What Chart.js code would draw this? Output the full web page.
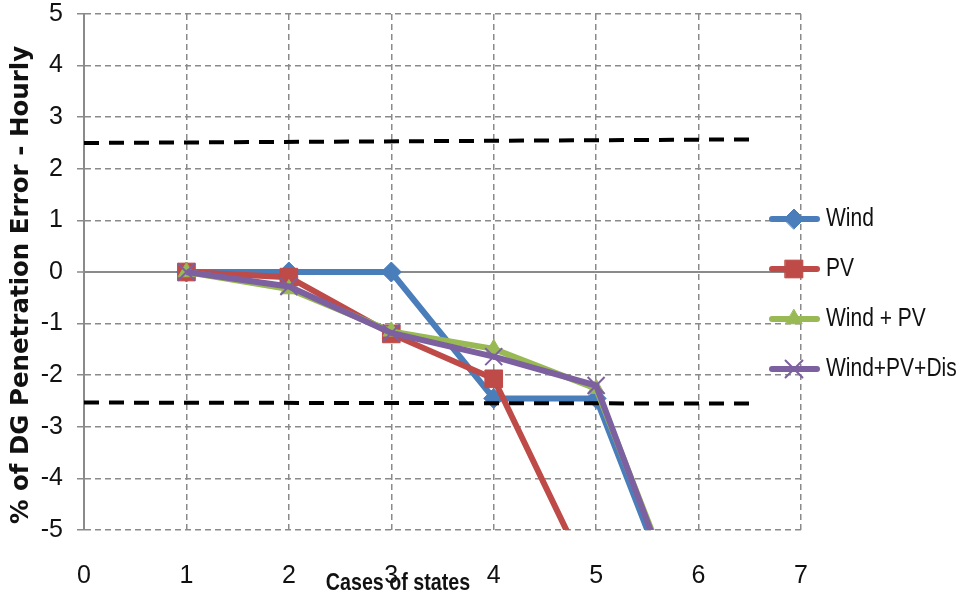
<!DOCTYPE html>
<html>
<head>
<meta charset="utf-8">
<title>DG penetration error</title>
<script src="https://cdn.jsdelivr.net/npm/chart.js@4.4.1/dist/chart.umd.min.js"></script>
<style>
    html, body { margin: 0; padding: 0; background: #fff; }
    canvas { display: block; }
</style>
</head>
<body>
<canvas id="erroChart" width="960" height="601"></canvas>
<script>
// Casos (eixo x) e erro horário de penetração de GD por cenário
const cases = [1, 2, 3, 4, 5, 6];
const windErr = [0, 0, 0, -2.45, -2.45, -7.55];
const pvErr = [0, -0.1, -1.2, -2.07, -6.2];
const windPvErr = [0, -0.33, -1.15, -1.49, -2.26, -7.33];
const windPvDisErr = [0, -0.28, -1.18, -1.64, -2.2, -7.48];

// Limites tracejados (+/- 2,5 %)
const limitX = [0, 6.52];
const upperLimit = [2.5, 2.57];
const lowerLimit = [-2.53, -2.55];

const xTicks = [0, 1, 2, 3, 4, 5, 6, 7];
const yTicks = [-5, -4, -3, -2, -1, 0, 1, 2, 3, 4, 5];

const xTitulo = 'Cases of states';
const yTitulo = '% of DG Penetration Error - Hourly';

const sans = "'Liberation Sans', Arial, sans-serif";
const gridGray = '#8a8a8a';

function toPoints(xs, ys) {
    return ys.map((y, i) => ({ x: xs[i], y: y }));
}

function serie(label, values, color, style, radius, order) {
    return {
        label: label,
        data: toPoints(cases, values),
        borderColor: color,
        backgroundColor: color,
        borderWidth: 6,
        pointStyle: style,
        pointRadius: radius,
        pointBackgroundColor: color,
        pointBorderColor: color,
        pointBorderWidth: style === 'crossRot' ? 2 : 1,
        tension: 0,
        clip: 0,
        order: order,
        noLegenda: false
    };
}

function limite(values) {
    return {
        label: '',
        data: toPoints(limitX, values),
        borderColor: '#000',
        borderWidth: 4,
        borderDash: [15, 10],
        pointRadius: 0,
        clip: 0,
        order: 4,
        noLegenda: true
    };
}

// Texto comprimido na horizontal (fonte estreita)
function textoEstreito(ctx, texto, x, y, fonte, escala, align) {
    ctx.save();
    ctx.font = fonte;
    ctx.fillStyle = '#111';
    ctx.textBaseline = 'middle';
    ctx.textAlign = align;
    ctx.translate(x, y);
    ctx.scale(escala, 1);
    ctx.fillText(texto, 0, 0);
    ctx.restore();
}

// Títulos dos eixos
const titulos = {
    id: 'titulos',
    afterDraw(chart) {
        const ctx = chart.ctx;
        textoEstreito(ctx, xTitulo, 398, 583, 'bold 24px ' + sans, 0.82, 'center');

        ctx.save();
        ctx.translate(22, 285);
        ctx.rotate(-Math.PI / 2);
        ctx.font = "bold 24.5px 'DejaVu Sans', sans-serif";
        ctx.fillStyle = '#111';
        ctx.textAlign = 'center';
        ctx.textBaseline = 'middle';
        ctx.fillText(yTitulo, 0, 0);
        ctx.restore();
    }
};

// Legenda desenhada à direita: linha + marcador + texto
const legendaLateral = {
    id: 'legendaLateral',
    afterDraw(chart) {
        const ctx = chart.ctx;
        const itens = chart.data.datasets.filter(d => !d.noLegenda);
        itens.forEach((ds, i) => {
            const y = 219 + i * 50;
            ctx.save();
            ctx.strokeStyle = ds.borderColor;
            ctx.lineWidth = 6;
            ctx.lineCap = 'round';
            ctx.beginPath();
            ctx.moveTo(772, y);
            ctx.lineTo(817, y);
            ctx.stroke();

            ctx.fillStyle = ds.pointBackgroundColor;
            ctx.strokeStyle = ds.pointBorderColor;
            ctx.lineWidth = ds.pointBorderWidth;
            Chart.helpers.drawPoint(ctx, {
                pointStyle: ds.pointStyle,
                radius: ds.pointRadius,
                rotation: 0,
                borderWidth: ds.pointBorderWidth
            }, 794, y);
            ctx.restore();

            textoEstreito(ctx, ds.label, 826, y, '25px ' + sans, 0.84, 'left');
        });
    }
};

const ctx = document.getElementById('erroChart').getContext('2d');
const erroChart = new Chart(ctx, {
    type: 'line',
    data: {
        datasets: [
            serie('Wind', windErr, '#4a7ebb', 'rectRot', 10, 5),
            serie('PV', pvErr, '#be4b48', 'rect', 12.5, 3),
            serie('Wind + PV', windPvErr, '#98b954', 'triangle', 9.5, 2),
            serie('Wind+PV+Dis', windPvDisErr, '#7d60a0', 'crossRot', 12, 1),
            limite(upperLimit),
            limite(lowerLimit)
        ]
    },
    options: {
        responsive: false,
        animation: false,
        devicePixelRatio: 1,
        layout: {
            padding: { top: 13, right: 159, left: 0, bottom: 0 }
        },
        plugins: {
            legend: { display: false },
            tooltip: { enabled: false }
        },
        scales: {
            x: {
                type: 'linear',
                min: 0,
                max: 7,
                afterBuildTicks: s => { s.ticks = xTicks.map(v => ({ value: v })); },
                afterFit: s => { s.height = 71; s.paddingLeft = 0; s.paddingRight = 0; },
                grid: { color: gridGray, lineWidth: 1.5, drawTicks: false },
                border: { display: false, dash: [6, 4] },
                ticks: {
                    padding: 31,
                    color: '#111',
                    maxRotation: 0,
                    font: { family: sans, size: 25 }
                }
            },
            y: {
                min: -5,
                max: 5,
                afterBuildTicks: s => { s.ticks = yTicks.map(v => ({ value: v })); },
                afterFit: s => { s.width = 84; s.paddingTop = 0; s.paddingBottom = 0; },
                grid: {
                    color: gridGray,
                    lineWidth: c => (c.tick && c.tick.value === 0 ? 2 : 1.5),
                    tickLength: 7,
                    tickColor: gridGray,
                    tickWidth: 1.5
                },
                border: {
                    display: true,
                    color: gridGray,
                    width: 2,
                    dash: c => (c.tick && c.tick.value === 0 ? [] : [6, 4])
                },
                ticks: {
                    padding: 14,
                    color: '#111',
                    font: { family: sans, size: 25 }
                }
            }
        }
    },
    plugins: [titulos, legendaLateral]
});
</script>
</body>
</html>
